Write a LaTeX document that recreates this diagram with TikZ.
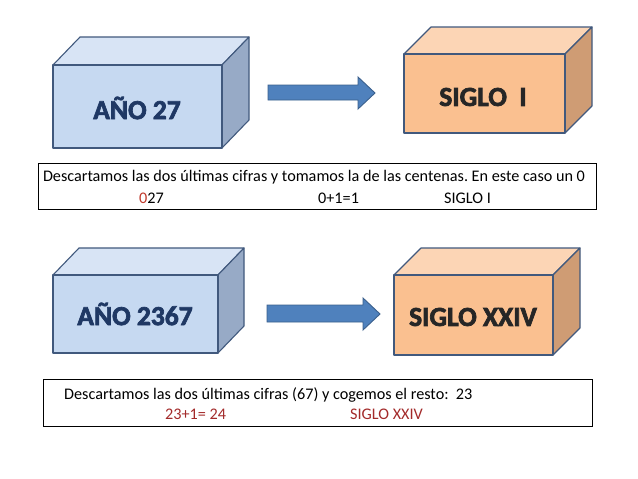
\documentclass[tikz,border=0pt]{standalone}
\usepackage{fontspec}
\setmainfont{Carlito}[BoldFont={Carlito Bold}]
\frenchspacing
\definecolor{bfront}{HTML}{C6D9F1}
\definecolor{btop}{HTML}{D8E4F5}
\definecolor{bside}{HTML}{97AAC6}
\definecolor{ofront}{HTML}{FAC090}
\definecolor{otop}{HTML}{FCD5B5}
\definecolor{oside}{HTML}{CF9C74}
\definecolor{edgec}{HTML}{41597D}
\definecolor{navy}{HTML}{1F3864}
\definecolor{arrowfill}{HTML}{4F81BD}
\definecolor{arrowedge}{HTML}{3A5F8C}
\definecolor{redA}{HTML}{C0392B}
\definecolor{redB}{HTML}{A32A2A}
\newcommand\heavytext[1]{\special{pdf:code 2 Tr 0.7 w}#1\special{pdf:code 0 Tr}}
\begin{document}
\begin{tikzpicture}[x=1pt,y=-1pt,
  face/.style={draw=edgec,line width=1.1pt,line join=round},
  frontbox/.style={face,inner sep=0pt,outer sep=0pt,minimum width=#1},
  title/.style={font=\fontsize{27.5}{27.5}\selectfont\bfseries,inner sep=0pt},
  blockarrow/.style={fill=arrowfill,draw=arrowedge,line width=0.9pt,line join=miter},
  textbox/.style={draw=black,line width=0.9pt,inner sep=0pt,outer sep=0pt},
  small/.style={font=\fontsize{16.2}{16.2}\selectfont,inner sep=0pt}]
\useasboundingbox[fill=white] (0,0) rectangle (638,479);

% ---- Box 1 (blue) ----
\draw[face,fill=btop] (53,65) -- (80,37) -- (249,37) -- (222,65) -- cycle;
\draw[face,fill=bside] (222,65) -- (249,37) -- (249,120) -- (222,148) -- cycle;
\node[frontbox=169pt,minimum height=83pt,fill=bfront] (y1) at (137.5,106.5) {};
\node[title,text=navy] (y1t) at (137,108) {\heavytext{AÑO 27}};

% ---- Arrow 1 ----
\draw[blockarrow] (268,85) -- (358,85) -- (358,77) -- (375,93) -- (358,109) -- (358,100) -- (268,100) -- cycle;

% ---- Box 2 (orange) ----
\draw[face,fill=otop] (404,54) -- (431,27) -- (592,27) -- (565,54) -- cycle;
\draw[face,fill=oside] (565,54) -- (592,27) -- (592,106) -- (565,133) -- cycle;
\node[frontbox=161pt,minimum height=79pt,fill=ofront] (s1) at (484.5,93.5) {};
\node[title,text=black!85] (s1t) at (483,97) {\heavytext{SIGLO\ \ I}};

% ---- Text box 1 ----
\node[textbox,minimum width=558pt,minimum height=46pt] (tb1) at (317,186) {};
\node[small] (tb1a) at (314,177) {Descartamos las dos últimas cifras y tomamos la de las centenas. En este caso un 0};
\node[small,anchor=west] (tb1b) at (139,198) {\textcolor{redA}{0}27};
\node[small,anchor=west] (tb1c) at (318,198) {0+1=1};
\node[small,anchor=west] (tb1d) at (444,198) {SIGLO I};

% ---- Box 3 (blue) ----
\draw[face,fill=btop] (53,275) -- (79,248) -- (244,248) -- (218,275) -- cycle;
\draw[face,fill=bside] (218,275) -- (244,248) -- (244,326) -- (218,353) -- cycle;
\node[frontbox=165pt,minimum height=78pt,fill=bfront] (y2) at (135.5,314) {};
\node[title,text=navy] (y2t) at (135,314) {\heavytext{AÑO 2367}};

% ---- Arrow 2 ----
\draw[blockarrow] (267,305) -- (363,305) -- (363,298) -- (380,314) -- (363,330) -- (363,322) -- (267,322) -- cycle;

% ---- Box 4 (orange) ----
\draw[face,fill=otop] (394,275) -- (421,248) -- (580,248) -- (553,275) -- cycle;
\draw[face,fill=oside] (553,275) -- (580,248) -- (580,328) -- (553,355) -- cycle;
\node[frontbox=159pt,minimum height=80pt,fill=ofront] (s2) at (473.5,315) {};
\node[title,text=black!85] (s2t) at (473,317) {\heavytext{SIGLO XXIV}};

% ---- Text box 2 ----
\node[textbox,minimum width=549pt,minimum height=47pt] (tb2) at (317.5,402.5) {};
\node[small,anchor=west] (tb2a) at (64,395) {Descartamos las dos últimas cifras (67) y cogemos el resto:\ \ 23};
\node[small,anchor=west,text=redB] (tb2b) at (165,414) {23+1= 24};
\node[small,anchor=west,text=redB] (tb2c) at (350,414) {SIGLO XXIV};
\end{tikzpicture}
\end{document}
